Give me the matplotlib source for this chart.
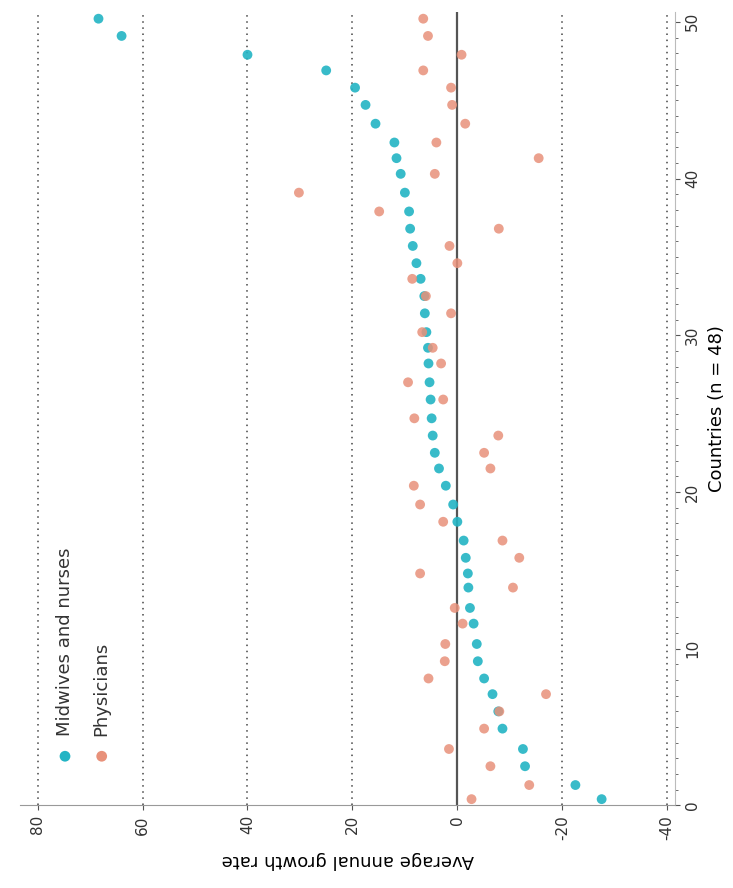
import matplotlib

matplotlib.use("Agg")
import matplotlib.pyplot as plt
from matplotlib.ticker import MultipleLocator

# Country position along the axis (countries sorted by midwife/nurse growth)
countries = [
    50.2, 49.1, 47.9, 46.9, 45.8, 44.7, 43.5, 42.3, 41.3, 40.3,
    39.1, 37.9, 36.8, 35.7, 34.6, 33.6, 32.5, 31.4, 30.2, 29.2,
    28.2, 27.0, 25.9, 24.7, 23.6, 22.5, 21.5, 20.4, 19.2, 18.1,
    16.9, 15.8, 14.8, 13.9, 12.6, 11.6, 10.3, 9.2, 8.1, 7.1,
    6.0, 4.9, 3.6, 2.5, 1.3, 0.4,
]
midwives = [
    68.4, 64.0, 40.0, 25.0, 19.5, 17.5, 15.6, 12.0, 11.6, 10.8,
    10.0, 9.2, 9.0, 8.5, 7.8, 7.0, 6.3, 6.2, 5.9, 5.6,
    5.5, 5.3, 5.1, 4.9, 4.7, 4.3, 3.5, 2.2, 0.8, 0.0,
    -1.2, -1.6, -2.0, -2.1, -2.4, -3.1, -3.7, -3.9, -5.1, -6.7,
    -7.8, -8.6, -12.5, -12.9, -22.5, -27.5,
]
physicians = [
    6.5, 5.6, -0.8, 6.5, 1.2, 1.0, -1.5, 4.0, -15.5, 4.3,
    30.2, 14.9, -7.9, 1.5, 0.0, 8.6, 6.0, 1.2, 6.7, 4.7,
    3.1, 9.4, 2.7, 8.2, -7.8, -5.1, -6.3, 8.3, 7.1, 2.7,
    -8.6, -11.8, 7.1, -10.6, 0.5, -1.0, 2.3, 2.4, 5.5, -16.9,
    -8.0, -5.1, 1.6, -6.3, -13.7, -2.7,
]
growth_ticks = [80, 60, 40, 20, 0, -20, -40]
series_names = ["Midwives and nurses", "Physicians"]
colors = ["#22b4c4", "#e8917a"]

if __name__ == "__main__":
    fig = plt.figure(figsize=(7.33, 8.88), dpi=100)
    # chart is shown turned a quarter turn: growth rate runs right-to-left,
    # countries run bottom-to-top on the right side
    ax = fig.add_axes([0.027, 0.093, 0.894, 0.893])

    for g in growth_ticks:
        if g == 0:
            ax.axvline(g, color="#555555", lw=1.6, zorder=1)
        else:
            ax.axvline(g, color="#444444", lw=1.1, ls=(0, (1, 3)), zorder=1)

    ax.scatter(midwives, countries, s=50, color=colors[0], alpha=0.9,
               edgecolors="none", zorder=3)
    ax.scatter(physicians, countries, s=50, color=colors[1], alpha=0.85,
               edgecolors="none", zorder=4)

    ax.set_xlim(83.4, -41.5)
    ax.set_ylim(0, 50.6)

    ax.set_xticks(growth_ticks)
    ax.set_xticklabels([str(g) for g in growth_ticks], rotation=90, fontsize=11)
    ax.set_xlabel("Average annual growth rate", rotation=180, fontsize=13,
                  labelpad=8)

    ax.yaxis.tick_right()
    ax.yaxis.set_label_position("right")
    ax.yaxis.set_major_locator(MultipleLocator(10))
    ax.yaxis.set_minor_locator(MultipleLocator(1))
    for lab in ax.get_yticklabels():
        lab.set_rotation(90)
        lab.set_va("center")
        lab.set_fontsize(11)
    ax.set_ylabel("Countries (n = 48)", rotation=90, fontsize=13, labelpad=6)
    ax.tick_params(axis="y", which="both", colors="#555555", labelcolor="#333333")
    ax.tick_params(axis="x", colors="#555555", labelcolor="#333333")

    ax.spines["top"].set_visible(False)
    ax.spines["left"].set_visible(False)
    ax.spines["bottom"].set_color("#999999")
    ax.spines["right"].set_color("#bbbbbb")

    # legend, turned with the chart
    for i, (name, c) in enumerate(zip(series_names, colors)):
        xa = 0.069 + i * 0.056
        ax.scatter([xa], [0.062], s=60, color=c, transform=ax.transAxes,
                   edgecolors="none", zorder=5, clip_on=False)
        ax.text(xa, 0.088, name, rotation=90, ha="center", va="bottom",
                fontsize=13, color="#333333", transform=ax.transAxes)

    fig.savefig("out.png", dpi=100)
